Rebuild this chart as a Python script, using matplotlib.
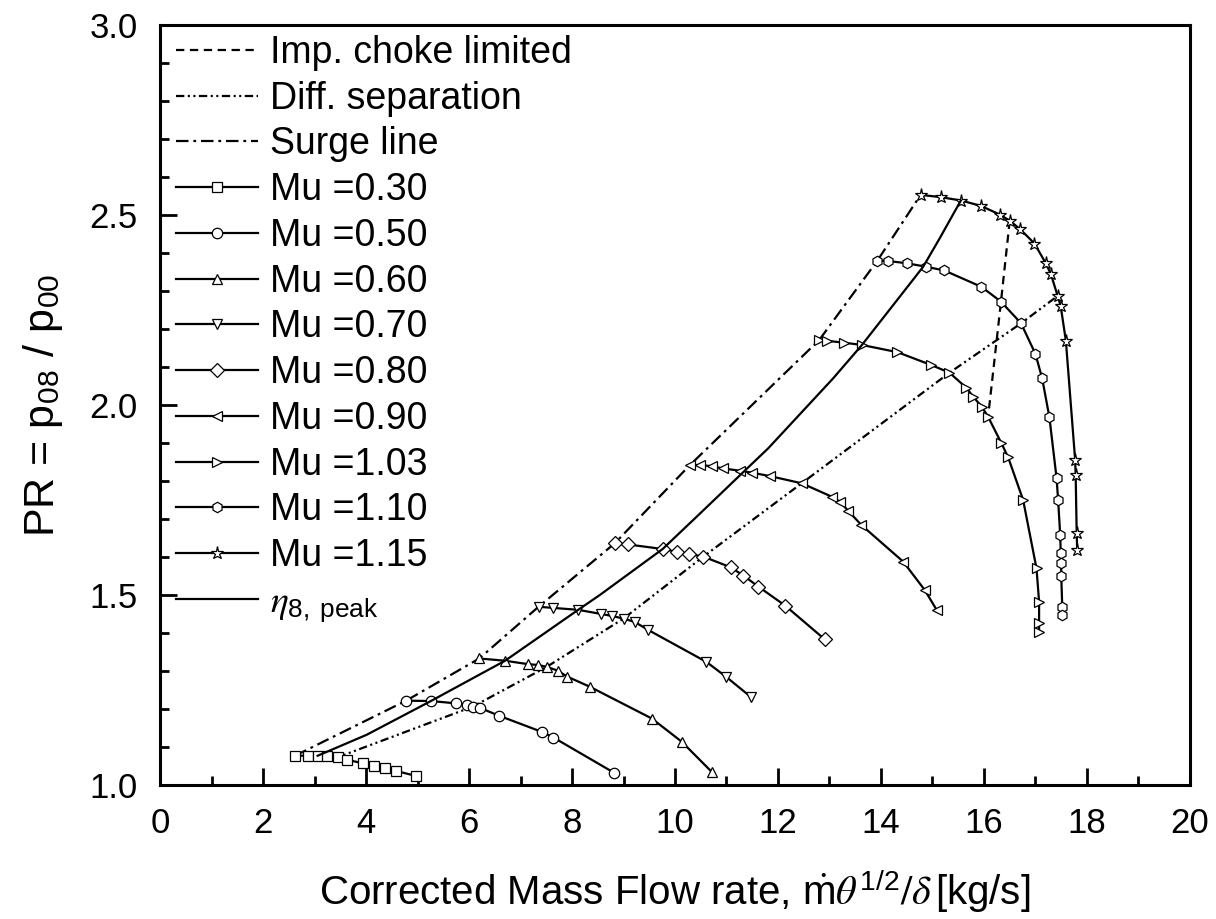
import numpy as np
import matplotlib.pyplot as plt
from matplotlib.ticker import MultipleLocator

plt.rcParams['font.family'] = ['Liberation Sans', 'DejaVu Sans']
plt.rcParams['mathtext.fontset'] = 'stix'
plt.rcParams['lines.scale_dashes'] = False

## ================= DATOS =================
mu_labels = ['Mu =0.30', 'Mu =0.50', 'Mu =0.60', 'Mu =0.70', 'Mu =0.80',
             'Mu =0.90', 'Mu =1.03', 'Mu =1.10', 'Mu =1.15']
mu_markers = ['s', 'o', '^', 'v', 'D', '<', '>', 'h', '*']

mu030_x = [2.62, 2.87, 3.06, 3.25, 3.45, 3.64, 3.95, 4.16, 4.36, 4.58, 4.97]
mu030_y = [1.077, 1.077, 1.077, 1.076, 1.073, 1.066, 1.057, 1.051, 1.046, 1.037, 1.024]

mu050_x = [4.78, 5.26, 5.74, 5.97, 6.07, 6.21, 6.59, 7.41, 7.64, 8.82]
mu050_y = [1.222, 1.221, 1.215, 1.211, 1.206, 1.203, 1.182, 1.140, 1.125, 1.032]

mu060_x = [6.20, 6.70, 7.15, 7.33, 7.51, 7.72, 7.91, 8.34, 9.55, 10.13, 10.71]
mu060_y = [1.333, 1.327, 1.318, 1.316, 1.311, 1.301, 1.285, 1.259, 1.175, 1.114, 1.035]

mu070_x = [7.35, 7.64, 8.12, 8.57, 8.77, 9.00, 9.22, 9.48, 10.61, 10.99, 11.47]
mu070_y = [1.469, 1.466, 1.461, 1.450, 1.445, 1.438, 1.429, 1.408, 1.324, 1.285, 1.232]

mu080_x = [8.83, 9.09, 9.76, 10.03, 10.28, 10.55, 11.08, 11.33, 11.62, 12.14, 12.91]
mu080_y = [1.636, 1.633, 1.621, 1.614, 1.608, 1.601, 1.573, 1.551, 1.522, 1.472, 1.383]

mu090_x = [10.29, 10.49, 10.71, 10.94, 11.26, 11.49, 11.84, 12.46, 13.04, 13.20,
           13.36, 13.62, 14.43, 14.85, 15.08]
mu090_y = [1.842, 1.842, 1.839, 1.833, 1.827, 1.822, 1.813, 1.794, 1.759, 1.746,
           1.722, 1.684, 1.588, 1.513, 1.461]

mu103_x = [12.80, 12.95, 13.28, 13.63, 14.32, 14.98, 15.33, 15.66, 15.79, 15.96,
           16.08, 16.34, 16.47, 16.76, 17.02, 17.07, 17.07, 17.07]
mu103_y = [2.171, 2.169, 2.164, 2.158, 2.139, 2.105, 2.085, 2.045, 2.022, 1.995,
           1.969, 1.899, 1.862, 1.750, 1.570, 1.482, 1.427, 1.403]

mu110_x = [13.93, 14.14, 14.50, 14.87, 15.23, 15.95, 16.33, 16.72, 17.00, 17.13,
           17.27, 17.41, 17.44, 17.48, 17.49, 17.50, 17.50, 17.52, 17.52]
mu110_y = [2.380, 2.379, 2.373, 2.364, 2.354, 2.311, 2.272, 2.215, 2.134, 2.070,
           1.968, 1.807, 1.749, 1.658, 1.611, 1.583, 1.551, 1.468, 1.447]

mu115_x = [14.77, 15.16, 15.56, 15.94, 16.31, 16.50, 16.70, 16.98, 17.20, 17.30,
           17.43, 17.49, 17.59, 17.77, 17.78, 17.80, 17.81]
mu115_y = [2.553, 2.547, 2.538, 2.524, 2.501, 2.485, 2.463, 2.425, 2.373, 2.344,
           2.287, 2.260, 2.169, 1.856, 1.817, 1.664, 1.618]

mu_x = [mu030_x, mu050_x, mu060_x, mu070_x, mu080_x, mu090_x, mu103_x, mu110_x, mu115_x]
mu_y = [mu030_y, mu050_y, mu060_y, mu070_y, mu080_y, mu090_y, mu103_y, mu110_y, mu115_y]

choke_x = [16.50, 16.33, 16.08]
choke_y = [2.485, 2.272, 1.969]

diff_x = [3.45, 6.07, 7.51, 9.00, 10.55, 12.46, 15.33, 16.72, 17.43]
diff_y = [1.073, 1.206, 1.311, 1.438, 1.601, 1.794, 2.085, 2.215, 2.287]

surge_x = [2.62, 4.78, 6.20, 7.35, 8.83, 10.29, 12.80, 13.93, 14.77]
surge_y = [1.077, 1.222, 1.333, 1.469, 1.636, 1.842, 2.171, 2.380, 2.553]

eta_x = [3.06, 4.01, 5.26, 6.02, 6.70, 8.12, 8.54, 9.76, 10.49, 11.33, 11.81,
         13.07, 13.63, 14.37, 14.82, 15.15, 15.55]
eta_y = [1.077, 1.132, 1.221, 1.277, 1.327, 1.461, 1.500, 1.621, 1.715, 1.824, 1.886,
         2.070, 2.158, 2.286, 2.364, 2.441, 2.538]

## ================= FIGURA =================
fig = plt.figure(figsize=(12.16, 9.19), dpi=100)
ax = fig.add_axes([0.1316, 0.1458, 0.8470, 0.8270])

lw = 1.6
ax.plot(choke_x, choke_y, color='k', lw=lw, dashes=(6, 4), label='Imp. choke limited')
ax.plot(diff_x, diff_y, color='k', lw=lw, dashes=(6, 2.5, 1.5, 2.5, 1.5, 2.5),
        label='Diff. separation')
ax.plot(surge_x, surge_y, color='k', lw=lw, dashes=(9, 3.5, 2, 3.5), label='Surge line')

for xs, ys, m, lab in zip(mu_x, mu_y, mu_markers, mu_labels):
    ms = 9.5 if m == '*' else 7.5
    if m == 'D':
        ms = 7
    ax.plot(xs, ys, color='k', lw=lw, marker=m, ms=ms, mfc='white', mec='k',
            mew=0.9, label=lab)

ax.plot(eta_x, eta_y, color='k', lw=lw, label=r'$\eta_{\mathregular{8,\ peak}}$')

ax.set_xlim(0, 20)
ax.set_ylim(1.0, 3.0)
ax.xaxis.set_major_locator(MultipleLocator(2))
ax.xaxis.set_minor_locator(MultipleLocator(1))
ax.yaxis.set_major_locator(MultipleLocator(0.5))
ax.yaxis.set_minor_locator(MultipleLocator(0.1))
ax.yaxis.set_major_formatter(plt.FormatStrFormatter('%.1f'))

ax.tick_params(which='both', direction='in', width=2, labelsize=25, pad=16)
ax.tick_params(which='major', length=12)
ax.tick_params(which='minor', length=6.5)
for s in ax.spines.values():
    s.set_linewidth(2.2)

ax.set_xlabel(r'Corrected Mass Flow rate, $\dot{\mathregular{m}}\theta^{\mathregular{1/2}}/\delta\,$[kg/s]',
              fontsize=29, labelpad=20)
ax.set_ylabel(r'PR = p$_{\mathregular{08}}$ / p$_{\mathregular{00}}$', fontsize=31, labelpad=18)

ax.legend(loc='upper left', bbox_to_anchor=(0.0155, 0.987), frameon=False, fontsize=27,
          handlelength=2.2, handletextpad=0.3, labelspacing=0.26, borderpad=0,
          borderaxespad=0, numpoints=1)

fig.savefig('out.png', dpi=100)
